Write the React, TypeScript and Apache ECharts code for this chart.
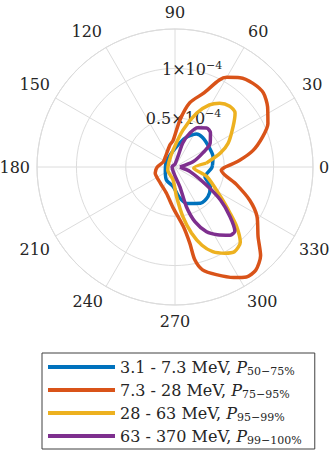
import React, { useEffect, useRef } from "react";
import * as echarts from "echarts";

// Energy bands and percentile labels
const bandNames = ["3.1 - 7.3 MeV", "7.3 - 28 MeV", "28 - 63 MeV", "63 - 370 MeV"];
const percentiles = ["50−75%", "75−95%", "95−99%", "99−100%"];
const colors = ["#0072BD", "#D95319", "#EDB120", "#7E2F8E"];

// Angle ticks (degrees) and radius tick labels (units of 1e-4)
const angleTicks = [0, 30, 60, 90, 120, 150, 180, 210, 240, 270, 300, 330];
const radiusTickValues = [0.5, 1];
const radiusTickLabels = ["0.5×10{sup|−4}", "1×10{sup|−4}"];
const radiusMax = 1.4;

// Curves: radius in units of 1e-4, angle in degrees
const blueR = [0.38, 0.40, 0.40, 0.41, 0.40, 0.31, 0.21, 0.13, 0.10, 0.11, 0.16, 0.20, 0.31, 0.39, 0.45, 0.45, 0.41, 0.32, 0.37];
const blueT = [2, 15, 31, 47, 57, 71, 85, 113, 156, 207, 238, 265, 278, 288, 305, 318, 331, 342, 358];

const orangeR = [0.51, 0.66, 0.81, 0.94, 1.04, 1.12, 1.17, 1.16, 1.12, 1.05, 0.99, 0.80, 0.67, 0.48, 0.27, 0.23, 0.14, 0.13, 0.18, 0.21, 0.22, 0.28, 0.41, 0.61, 0.79, 0.96, 1.08, 1.17, 1.27, 1.33, 1.33, 1.25, 1.10, 0.97, 0.83, 0.65, 0.47];
const orangeT = [0, 6, 12, 19, 25, 33, 40, 47, 54, 60, 63, 69, 77, 84, 94, 103, 135, 157, 180, 197, 227, 252, 267, 278, 281, 282, 285, 291, 298, 303, 308, 314, 320, 329, 336, 344, 356];

const yellowR = [0.32, 0.48, 0.59, 0.72, 0.82, 0.83, 0.79, 0.72, 0.59, 0.38, 0.17, 0.08, 0.08, 0.13, 0.30, 0.51, 0.69, 0.84, 0.94, 1.01, 1.05, 1.01, 0.87, 0.73, 0.55, 0.34, 0.19];
const yellowT = [7, 17, 24, 35, 42, 48, 55, 61, 68, 78, 97, 140, 203, 261, 273, 279, 284, 289, 294, 300, 305, 311, 316, 320, 327, 343, 357];

const purpleR = [0.05, 0.19, 0.32, 0.43, 0.50, 0.51, 0.46, 0.38, 0.26, 0.12, 0.03, 0.03, 0.21, 0.42, 0.59, 0.73, 0.81, 0.89, 0.89, 0.75, 0.57, 0.37, 0.16];
const purpleT = [0, 16, 27, 34, 44, 51, 60, 66, 72, 74, 90, 175, 284, 286, 290, 296, 302, 309, 313, 318, 324, 330, 343];

const curvesR = [blueR, orangeR, yellowR, purpleR];
const curvesT = [blueT, orangeT, yellowT, purpleT];

const FONT = "DejaVu Serif";
const TEXT = "#262626";
const GRID = "#dcdcdc";

// per-label padding [top, right, bottom, left] to nudge angle labels
const labelPad: Record<number, number[]> = {
  0: [0, 0, 0, 2],
  30: [0, 0, 4, 4],
  60: [0, 0, 5, 2],
  90: [0, 0, 5, 0],
  120: [0, 2, 5, 0],
  150: [0, 2, 4, 0],
  180: [0, 3, 0, 0],
  210: [3, 2, 0, 0],
  240: [4, 1, 0, 0],
  270: [4, 0, 0, 0],
  300: [4, 0, 0, 1],
  330: [3, 0, 0, 1],
};

function closedCurve(r: number[], t: number[]) {
  const pts = r.map((v, i) => [v, t[i]]);
  pts.push([r[0], t[0]]);
  return pts;
}

export default function App() {
  const ref = useRef<HTMLDivElement>(null);
  useEffect(() => {
    if (!ref.current) return;
    const chart = echarts.init(ref.current, undefined, { renderer: "svg" });
    const center = [175, 167];
    const radius = 138;
    const rich: Record<string, any> = {};
    angleTicks.forEach((a) => {
      rich["a" + a] = { fontFamily: FONT, fontSize: 16, color: TEXT, padding: labelPad[a] };
    });
    const option: any = {
      animation: false,
      backgroundColor: "#ffffff",
      polar: [
        { center, radius },
        { center, radius },
      ],
      angleAxis: [
        {
          polarIndex: 0,
          type: "value",
          min: 0,
          max: 360,
          interval: 30,
          startAngle: 0,
          clockwise: false,
          axisLine: { show: true, lineStyle: { color: GRID, width: 1 } },
          axisTick: { show: false },
          splitLine: { show: true, lineStyle: { color: GRID, width: 1 } },
          axisLabel: {
            margin: 4,
            fontFamily: FONT,
            fontSize: 16,
            color: TEXT,
            formatter: (v: number) => {
              if (!angleTicks.includes(v)) return "";
              return `{a${v}|${v}}`;
            },
            rich,
          },
        },
        {
          polarIndex: 1,
          type: "value",
          min: 0,
          max: 360,
          startAngle: 80,
          clockwise: false,
          show: false,
        },
      ],
      radiusAxis: [
        {
          polarIndex: 0,
          type: "value",
          min: 0,
          max: radiusMax,
          interval: 0.5,
          axisLine: { show: false },
          axisTick: { show: false },
          axisLabel: { show: false },
          splitLine: { show: true, lineStyle: { color: GRID, width: 1 } },
        },
        {
          polarIndex: 1,
          type: "value",
          min: 0,
          max: radiusMax,
          interval: 0.5,
          axisLine: { show: false },
          axisTick: { show: false },
          splitLine: { show: false },
          axisLabel: {
            margin: 0,
            align: "center",
            verticalAlign: "middle",
            color: TEXT,
            fontFamily: FONT,
            fontSize: 16,
            lineHeight: 20,
            formatter: (v: number) => {
              const idx = radiusTickValues.findIndex((x) => Math.abs(x - v) < 1e-6);
              return idx >= 0 ? radiusTickLabels[idx] : "";
            },
            rich: {
              sup: { fontFamily: FONT, fontSize: 11, lineHeight: 11, color: TEXT, verticalAlign: "top" },
            },
          },
        },
      ],
      legend: {
        orient: "vertical",
        left: 42,
        top: 353,
        padding: [4, 13, 3, 6],
        itemGap: 3,
        itemWidth: 67,
        itemHeight: 4,
        icon: "rect",
        borderColor: "#404040",
        borderWidth: 1,
        backgroundColor: "#ffffff",
        data: bandNames,
        formatter: (name: string) => {
          const i = bandNames.indexOf(name);
          return `${name}, {p|P}{s|${percentiles[i]}}`;
        },
        textStyle: {
          fontFamily: FONT,
          fontSize: 16,
          lineHeight: 20,
          color: TEXT,
          rich: {
            p: { fontFamily: FONT, fontSize: 16, lineHeight: 20, fontStyle: "italic", color: TEXT },
            s: { fontFamily: FONT, fontSize: 11, lineHeight: 11, color: TEXT, verticalAlign: "bottom" },
          },
        },
      },
      series: bandNames.map((name, i) => ({
        type: "line",
        name,
        coordinateSystem: "polar",
        polarIndex: 0,
        data: closedCurve(curvesR[i], curvesT[i]),
        showSymbol: false,
        symbol: "none",
        smooth: 0.25,
        lineStyle: { color: colors[i], width: 3.5 },
        itemStyle: { color: colors[i] },
        z: 2 + i,
      })),
    };
    chart.setOption(option);
    return () => chart.dispose();
  }, []);
  return (
    <div
      ref={ref}
      style={{ position: "fixed", left: 0, top: 0, width: 332, height: 450, background: "#fff" }}
    />
  );
}
